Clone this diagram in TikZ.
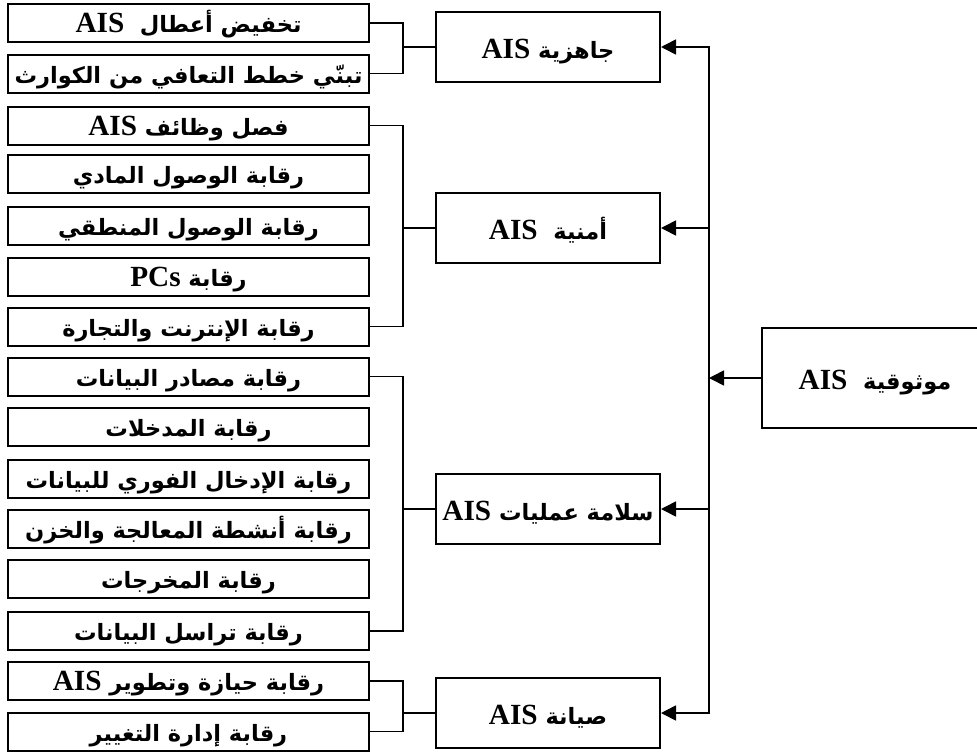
\documentclass[tikz,border=0pt]{standalone}
\usepackage{fontspec}
\newfontfamily\arabicfont[Script=Arabic]{DejaVu Sans}
\newfontfamily\latinfont[Scale=1.3]{Liberation Serif}
\TeXXeTstate=1
\usetikzlibrary{arrows.meta}
\newcommand{\ais}{{\latinfont AIS}}

\begin{document}
\begin{tikzpicture}[
    x=1pt, y=-1pt,
    leafbox/.style={
        rectangle, draw, line width=2pt, inner sep=0pt,
        minimum width=361pt, minimum height=38pt,
        text height=22pt, text depth=3pt,
        font=\arabicfont\bfseries\fontsize{22.5}{26}\selectfont
    },
    branchbox/.style={
        rectangle, draw, line width=2pt, inner sep=0pt,
        minimum width=224pt, minimum height=70pt,
        text height=27pt, text depth=4pt,
        font=\arabicfont\bfseries\fontsize{22.5}{26}\selectfont
    },
    rootbox/.style={
        rectangle, draw, line width=2pt, inner sep=0pt,
        minimum width=226pt, minimum height=100pt,
        text height=27pt, text depth=4pt,
        font=\arabicfont\bfseries\fontsize{22.5}{26}\selectfont
    },
    joinline/.style={line width=1.7pt},
    feedarrow/.style={line width=1.7pt, -{Triangle[length=15pt,width=15pt]}}
]
\useasboundingbox (0,0) rectangle (977,753);
\clip (0,0) rectangle (977,753);

% البنود الفرعية
\node[leafbox] (b1) at (188.5,23) {\beginR تخفيض أعطال~ \ais\endR};
\node[leafbox] (b2) at (188.5,73.5) {\beginR تبنّي خطط التعافي من الكوارث\endR};
\node[leafbox] (b3) at (188.5,125.5) {\beginR فصل وظائف \ais\endR};
\node[leafbox] (b4) at (188.5,174) {\beginR رقابة الوصول المادي\endR};
\node[leafbox] (b5) at (188.5,225.5) {\beginR رقابة الوصول المنطقي\endR};
\node[leafbox] (b6) at (188.5,276.5) {\beginR رقابة {\latinfont PCs}\endR};
\node[leafbox] (b7) at (188.5,326.5) {\beginR رقابة الإنترنت والتجارة\endR};
\node[leafbox] (b8) at (188.5,376.5) {\beginR رقابة مصادر البيانات\endR};
\node[leafbox] (b9) at (188.5,427) {\beginR رقابة المدخلات\endR};
\node[leafbox] (b10) at (188.5,478.5) {\beginR رقابة الإدخال الفوري للبيانات\endR};
\node[leafbox] (b11) at (188.5,528.5) {\beginR رقابة أنشطة المعالجة والخزن\endR};
\node[leafbox] (b12) at (188.5,579) {\beginR رقابة المخرجات\endR};
\node[leafbox] (b13) at (188.5,631) {\beginR رقابة تراسل البيانات\endR};
\node[leafbox] (b14) at (188.5,681) {\beginR رقابة حيازة وتطوير \ais\endR};
\node[leafbox] (b15) at (188.5,731.5) {\beginR رقابة إدارة التغيير\endR};

% المكونات الأربعة
\node[branchbox] (m1) at (548,47) {\beginR جاهزية \ais\endR};
\node[branchbox] (m2) at (548,228) {\beginR أمنية~ \ais\endR};
\node[branchbox] (m3) at (548,509) {\beginR سلامة عمليات \ais\endR};
\node[branchbox] (m4) at (548,713) {\beginR صيانة \ais\endR};

% الهدف
\node[rootbox] (root) at (875,378) {\beginR موثوقية~ \ais\endR};

% نقاط الأقواس والجذع
\coordinate (j1) at (403,47);
\coordinate (j2) at (403,228);
\coordinate (j3) at (403,509);
\coordinate (j4) at (403,713);
\coordinate (trunk) at (709,0);

% الأقواس
\draw[joinline] (b1.east) -| (j1) |- (b2.east);
\draw[joinline] (b3.east) -| (j2) |- (b7.east);
\draw[joinline] (b8.east) -| (j3) |- (b13.east);
\draw[joinline] (b14.east) -| (j4) |- (b15.east);
\draw[joinline] (j1) -- (m1.west);
\draw[joinline] (j2) -- (m2.west);
\draw[joinline] (j3) -- (m3.west);
\draw[joinline] (j4) -- (m4.west);

% الجذع والأسهم
\draw[joinline, line cap=rect] (m1.east -| trunk) -- (m4.east -| trunk);
\draw[feedarrow] (m1.east -| trunk) -- (m1.east);
\draw[feedarrow] (m2.east -| trunk) -- (m2.east);
\draw[feedarrow] (m3.east -| trunk) -- (m3.east);
\draw[feedarrow] (m4.east -| trunk) -- (m4.east);
\draw[feedarrow] (root.west) -- (root.west -| trunk);

\end{tikzpicture}
\end{document}
